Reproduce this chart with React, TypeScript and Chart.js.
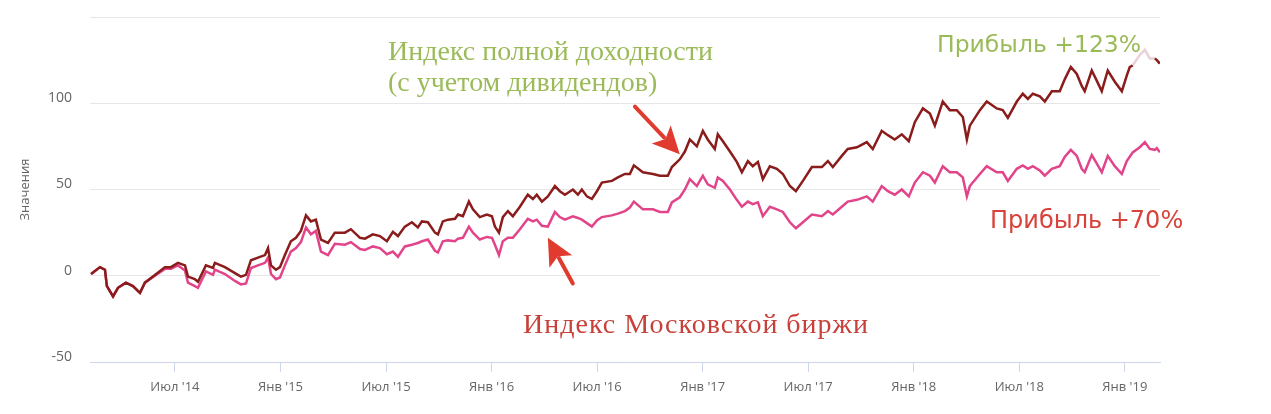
import React, { useEffect, useRef } from 'react';
import { Chart, registerables } from 'chart.js';

Chart.register(...registerables);

// x: months since Jan 2014 (Jul '14 = 6, Jan '19 = 60)
const monthIndex = [
  1.23, 1.74, 2.02, 2.13, 2.48, 2.76, 3.21, 3.61, 4.01, 4.29,
  4.86, 5.43, 5.77, 6.17, 6.57, 6.74, 7.13, 7.31, 7.76, 8.16,
  8.27, 8.84, 9.41, 9.75, 10.04, 10.32, 10.72, 11.12, 11.29, 11.46,
  11.74, 11.97, 12.25, 12.59, 12.88, 13.16, 13.45, 13.73, 14.01, 14.3,
  14.7, 15.09, 15.66, 16.0, 16.52,
  16.8, 17.25, 17.65, 18.05, 18.39, 18.68, 19.07, 19.47, 19.81, 20.04,
  20.38, 20.78, 20.95, 21.23, 21.52, 21.92, 22.09, 22.37, 22.71, 22.94,
  23.33, 23.73, 24.02, 24.19, 24.42, 24.64, 24.93, 25.21, 25.61, 26.06,
  26.35, 26.57, 26.86, 27.2, 27.6, 27.88, 28.17, 28.62, 28.91, 29.13,
  29.42, 29.7, 29.99, 30.27, 30.84, 31.18, 31.58, 31.86, 32.09,
  32.6, 33.17, 33.57, 34.02, 34.25, 34.7, 34.99, 35.27, 35.67, 36.01,
  36.29, 36.69, 36.86, 37.15, 37.55, 37.94, 38.23, 38.57, 38.85, 39.14,
  39.42, 39.82, 40.22, 40.56, 40.96, 41.3, 41.7, 42.21, 42.78, 43.12,
  43.4, 43.91, 44.25, 44.77, 45.33, 45.67, 46.18, 46.53, 46.92, 47.32,
  47.72,
  48.06, 48.52, 48.92, 49.2, 49.65, 50.05, 50.45, 50.79, 51.02, 51.19,
  51.76, 52.15, 52.72, 53.06, 53.35, 53.86, 54.2, 54.49, 54.77, 55.17,
  55.45, 55.85, 56.3, 56.59, 56.93, 57.27, 57.55, 57.72, 58.12, 58.41,
  58.69, 59.03, 59.43, 59.83, 60.11, 60.28, 60.45, 60.85, 61.14, 61.42,
  61.71, 61.82, 61.99,
];

// Индекс полной доходности (с учетом дивидендов), %
const totalReturnIndex = [
  1, 5, 3.5, -6, -12, -7, -4, -6, -10, -4,
  0.5, 5, 5, 7.5, 6, -0.5, -2, -3.5, 6, 4.5,
  7.5, 5, 1.5, -0.5, 0.5, 9, 10.5, 12, 16, 6,
  3.5, 5, 12, 20, 22, 26, 35, 31.5, 32.5, 21,
  19, 25, 25, 27, 22,
  21.5, 24, 23, 20, 25.5, 23, 28.5, 31, 28, 31.5,
  31, 25, 24, 31.5, 32.5, 33, 35.5, 34.5, 43, 38.5,
  34, 35.5, 34.5, 28.5, 25, 34, 37.5, 34.5, 40, 47,
  44.5, 47, 43, 46, 52, 49, 47, 50, 47, 50,
  46, 44.5, 49, 54, 55, 57, 59, 59, 64,
  60, 59, 58, 58, 63, 67.5, 72, 79, 75, 84,
  79, 73.5, 82, 78, 72, 66, 60, 66.5, 63.5, 66,
  56, 63.5, 62, 59, 52, 49, 55, 63, 63, 66.5,
  63, 69.5, 73.5, 74.5, 77.5, 73.5, 84, 81.5, 79, 82,
  78,
  89, 97, 94, 87, 101, 96, 96, 92, 79, 87,
  96, 101, 97, 96, 91.5, 101, 105.5, 102.5, 105.5, 104,
  101, 107, 107, 114, 121, 117, 110, 107, 119, 113,
  107, 119, 112.5, 107, 116, 121, 122, 128, 131, 126,
  126, 125, 123,
];

// Индекс Московской биржи, %
const moexIndex = [
  1, 5, 3.5, -6, -12, -7, -4, -6, -10, -4,
  0, 4, 4, 6, 3, -4, -6, -7, 2.5, 0.5,
  3.5, 1, -3, -5, -4.5, 4.5, 6, 7.5, 10.5, 1,
  -2, -1, 6, 14, 16, 19.5, 28, 24, 26, 14,
  12, 18.5, 18, 19.5, 15.5,
  15, 17, 16, 12.5, 14, 11, 17, 18, 19, 20,
  21, 14.5, 13.5, 20, 20.5, 20, 21.5, 22, 28.5, 25,
  21, 22.5, 22, 18, 12, 20, 22, 22, 27, 33,
  31.5, 32.5, 29, 28.5, 37, 34, 32.5, 34.5, 33.5, 32.5,
  30.5, 28.5, 32, 34, 35, 36, 37.5, 39.5, 43,
  38.5, 38.5, 37, 37, 42.5, 45.5, 50, 56, 52, 58,
  53, 51, 57, 55, 50, 44, 40, 43, 41.5, 42.5,
  34.5, 40, 38.5, 37, 31, 27.5, 31, 35.5, 34.5, 37.5,
  35.5, 40, 43, 44, 46, 43, 52, 49, 47, 50,
  46,
  54, 60, 58, 54, 63.5, 60, 60, 57, 46, 52,
  59, 63.5, 60, 60, 55, 62, 64, 62, 63.5, 61,
  58, 62, 63.5, 69, 73, 69.5, 62, 60, 70, 65,
  60, 69.5, 63.5, 59, 66.5, 69, 71.5, 74.5, 77.5, 73.5,
  73, 74, 71.5,
];

const xTickMonths = [6, 12, 18, 24, 30, 36, 42, 48, 54, 60];
const xTickLabels = ["Июл '14", "Янв '15", "Июл '15", "Янв '16", "Июл '16", "Янв '17", "Июл '17", "Янв '18", "Июл '18", "Янв '19"];

// faded stretch of the total-return line under the "+123%" label
const fadeFrom = 60.45;
const fadeTo = 61.71;

// annotation arrows: [tailMonth, tailValue, tipMonth, tipValue]
const arrowTotal = [32.15, 98, 34.7, 70.5];
const arrowMoex = [28.62, -4.5, 27.2, 22];

const GREEN = '#9bbb59';
const RED = '#c8403a';
const ARROW = '#e13a2e';

function drawArrow(ctx: CanvasRenderingContext2D, x1: number, y1: number, x2: number, y2: number) {
  const dx = x2 - x1, dy = y2 - y1;
  const len = Math.hypot(dx, dy);
  const ux = dx / len, uy = dy / len;
  const headLen = 27, half = 13;
  const bx = x2 - ux * headLen, by = y2 - uy * headLen;
  ctx.save();
  ctx.strokeStyle = ARROW;
  ctx.fillStyle = ARROW;
  ctx.lineWidth = 4;
  ctx.lineCap = 'round';
  ctx.beginPath();
  ctx.moveTo(x1, y1);
  ctx.lineTo(bx + ux * 4, by + uy * 4);
  ctx.stroke();
  ctx.beginPath();
  ctx.moveTo(x2, y2);
  ctx.lineTo(bx - uy * half, by + ux * half);
  ctx.lineTo(bx + ux * 6, by + uy * 6);
  ctx.lineTo(bx + uy * half, by - ux * half);
  ctx.closePath();
  ctx.fill();
  ctx.restore();
}

const annotationPlugin = {
  id: 'annotations',
  afterDatasetsDraw(chart: any) {
    const { ctx, scales } = chart;
    const xs = scales.x, ys = scales.y;
    for (const a of [arrowTotal, arrowMoex]) {
      drawArrow(ctx, xs.getPixelForValue(a[0]), ys.getPixelForValue(a[1]), xs.getPixelForValue(a[2]), ys.getPixelForValue(a[3]));
    }
    ctx.save();
    ctx.textBaseline = 'alphabetic';
    ctx.textAlign = 'left';
    ctx.font = '28px "Liberation Serif", serif';
    ctx.fillStyle = GREEN;
    ctx.fillText('Индекс полной доходности', 388, 60);
    ctx.fillText('(с учетом дивидендов)', 388, 91);
    ctx.fillStyle = RED;
    (ctx as any).letterSpacing = '1px';
    ctx.fillText('Индекс Московской биржи', 523, 333);
    (ctx as any).letterSpacing = '0px';
    ctx.font = '23.5px "DejaVu Sans", sans-serif';
    ctx.fillStyle = GREEN;
    ctx.fillText('Прибыль +123%', 937, 52);
    ctx.font = '24px "DejaVu Sans", sans-serif';
    ctx.fillStyle = '#d9413b';
    ctx.fillText('Прибыль +70%', 990, 228);
    ctx.restore();
  },
};

export default function App() {
  const ref = useRef<HTMLCanvasElement>(null);
  useEffect(() => {
    document.body.style.margin = '0';
    const canvas = ref.current;
    if (!canvas) return;
    const chart = new Chart(canvas, {
      type: 'line',
      data: {
        datasets: [
          {
            label: 'Индекс полной доходности',
            data: monthIndex.map((x, i) => ({ x, y: totalReturnIndex[i] })),
            borderColor: '#8a1c1c',
            borderWidth: 2.5,
            pointRadius: 0,
            tension: 0,
            segment: {
              borderColor: (c: any) =>
                c.p0.parsed.x >= fadeFrom - 0.001 && c.p1.parsed.x <= fadeTo + 0.001 ? '#e8d2d6' : undefined,
            },
          },
          {
            label: 'Индекс Московской биржи',
            data: monthIndex.map((x, i) => ({ x, y: moexIndex[i] })),
            borderColor: '#e2448a',
            borderWidth: 2.5,
            pointRadius: 0,
            tension: 0,
          },
        ],
      },
      options: {
        animation: false,
        responsive: false,
        devicePixelRatio: 1,
        layout: { padding: { top: 17, right: 111, bottom: 0, left: 0 } },
        plugins: {
          legend: { display: false },
          tooltip: { enabled: false },
        },
        scales: {
          x: {
            type: 'linear',
            min: 1.17,
            max: 62.0,
            afterBuildTicks: (axis: any) => {
              axis.ticks = xTickMonths.map((v) => ({ value: v }));
            },
            afterFit: (axis: any) => {
              axis.height = 52;
              axis.paddingLeft = 0;
              axis.paddingRight = 0;
            },
            ticks: {
              autoSkip: false,
              maxRotation: 0,
              padding: 7,
              color: '#666666',
              font: { family: '"Open Sans", sans-serif', size: 13 },
              callback: (v: any) => {
                const i = xTickMonths.indexOf(Number(v));
                return i >= 0 ? xTickLabels[i] : '';
              },
            },
            grid: {
              drawOnChartArea: false,
              drawTicks: true,
              tickLength: 10,
              color: '#ccd6eb',
            },
            border: { display: true, color: '#ccd6eb', width: 1 },
          },
          y: {
            min: -50,
            max: 150,
            afterFit: (axis: any) => {
              axis.width = 90;
              axis.paddingTop = 0;
              axis.paddingBottom = 0;
            },
            ticks: {
              stepSize: 50,
              padding: 18,
              labelOffset: -5,
              color: '#666666',
              font: { family: '"Open Sans", sans-serif', size: 14 },
              callback: (v: any) => (Number(v) === 150 ? '' : String(v)),
            },
            grid: { color: '#e6e6e6', drawTicks: false, lineWidth: 1 },
            border: { display: false },
            title: {
              display: true,
              text: 'Значения',
              color: '#666666',
              font: { family: '"Open Sans", sans-serif', size: 13 },
              padding: { top: 17, bottom: 0 },
            },
          },
        },
      },
      plugins: [annotationPlugin],
    });
    return () => chart.destroy();
  }, []);
  return (
    <div style={{ width: 1271, height: 414 }}>
      <canvas ref={ref} width={1271} height={414} style={{ display: 'block' }} />
    </div>
  );
}
